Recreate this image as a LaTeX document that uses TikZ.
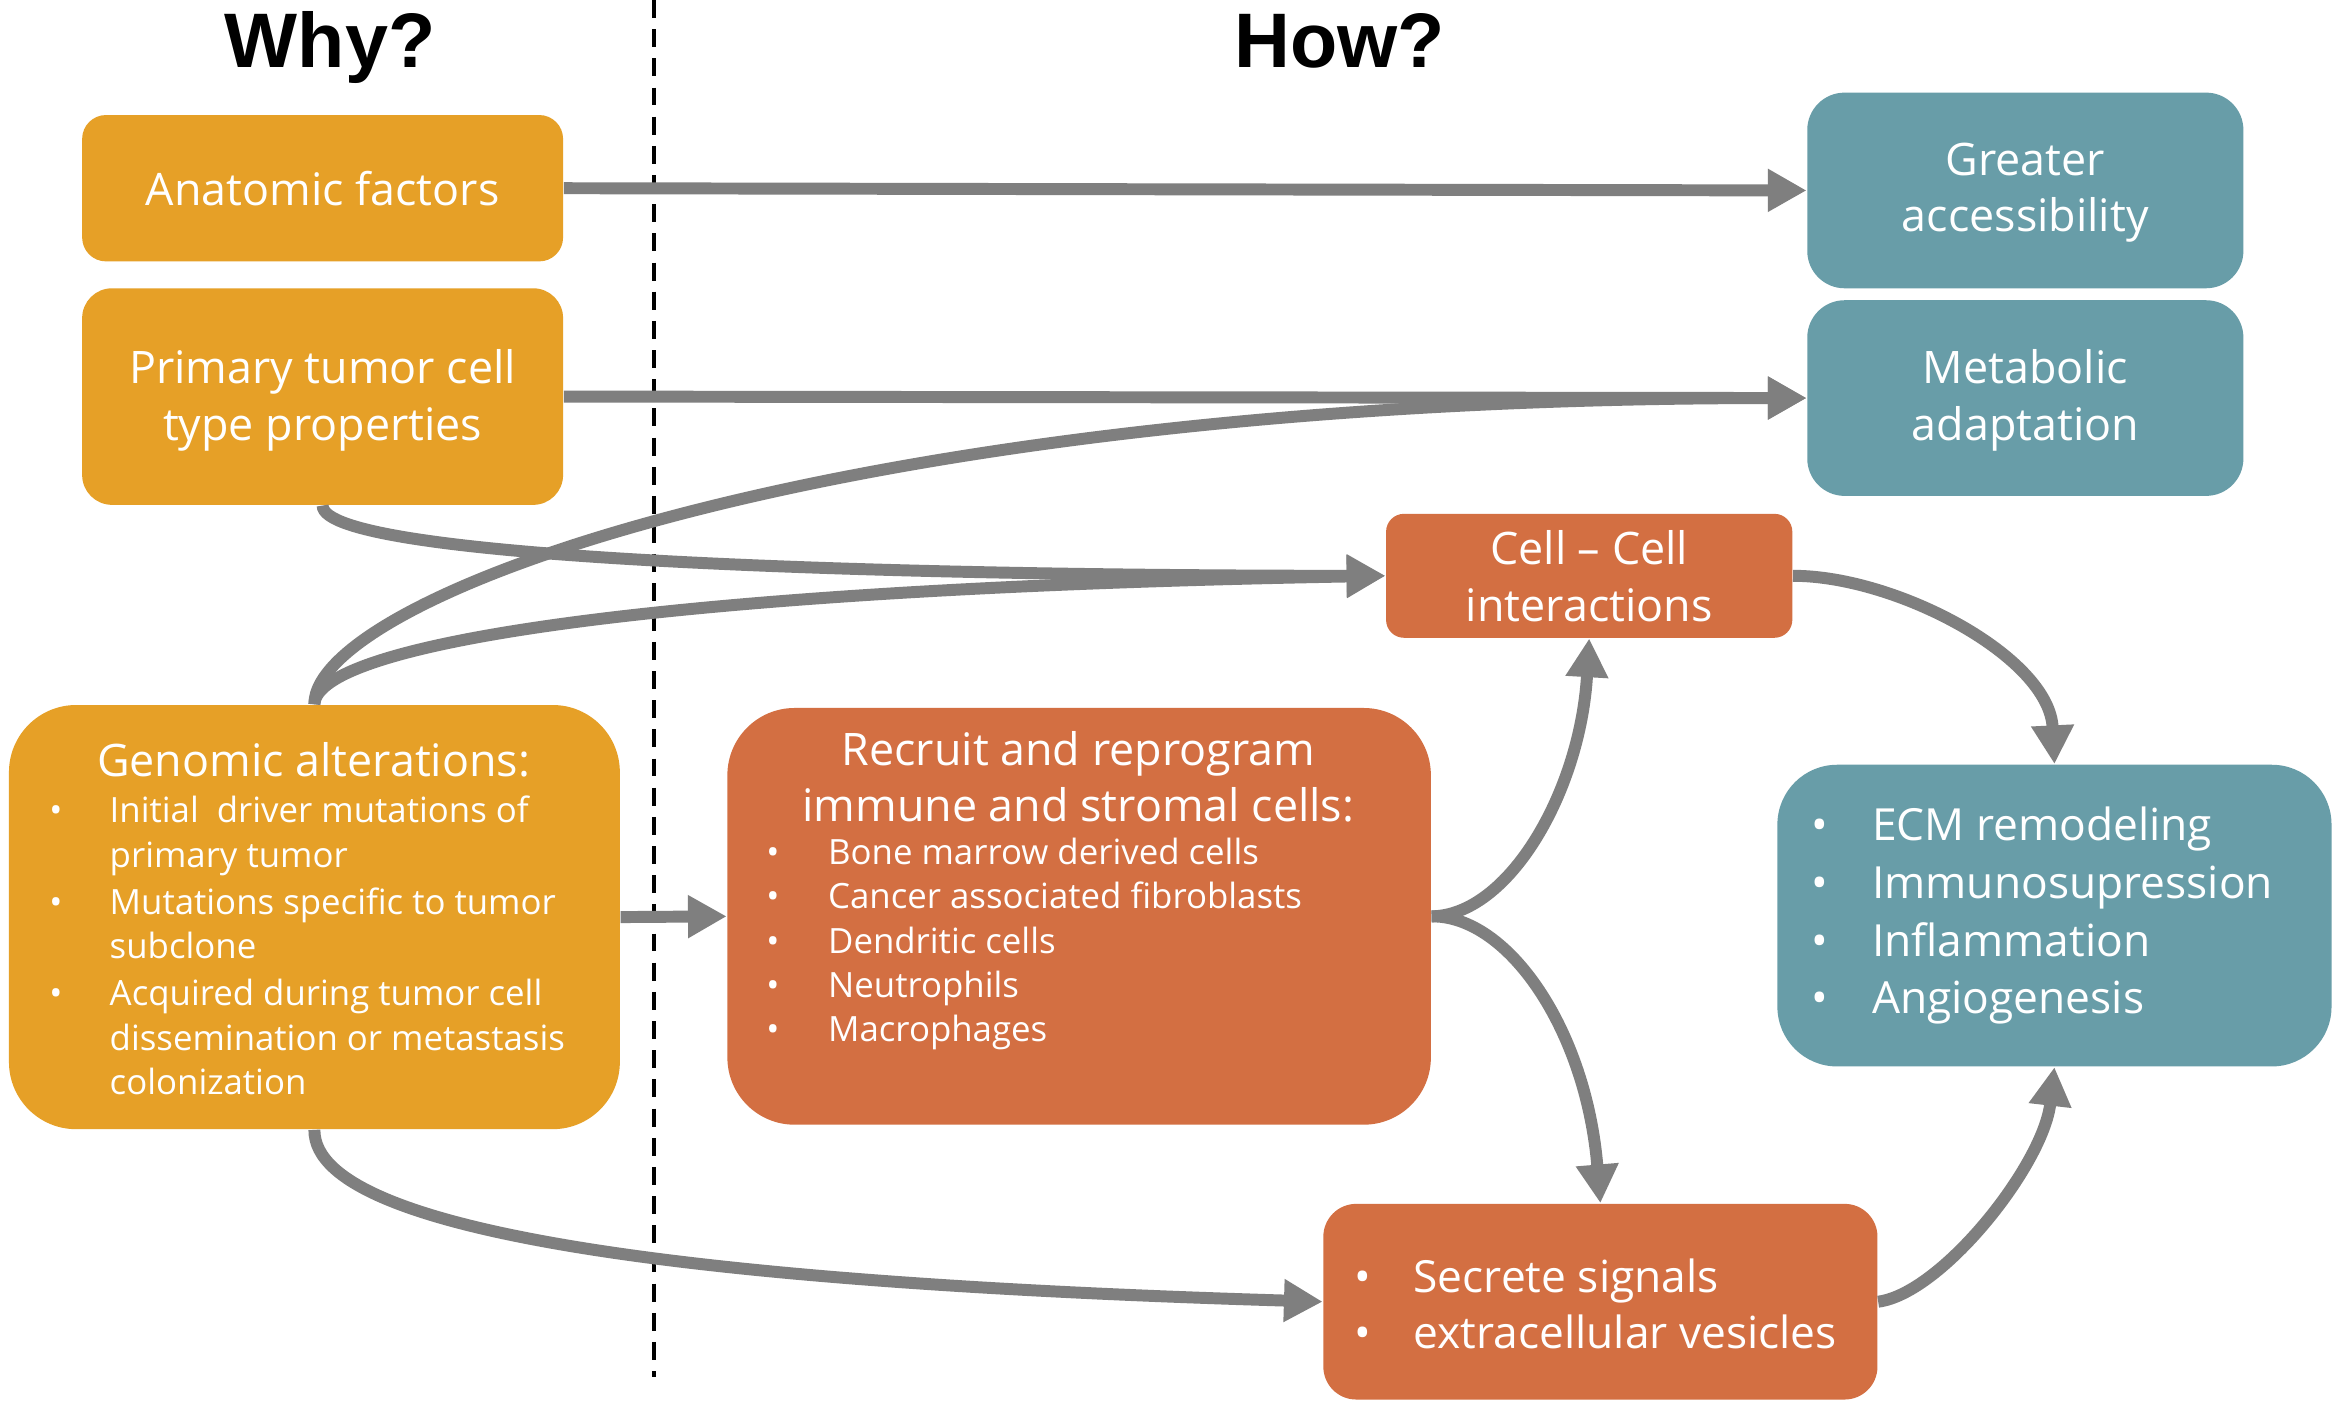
\documentclass[tikz,border=0pt]{standalone}
\usepackage{fontspec}
\setmainfont{Open Sans}
\newfontfamily\titlefont{Liberation Sans}
\usetikzlibrary{arrows.meta,fit}
\definecolor{cOr}{HTML}{E6A027}
\definecolor{cRd}{HTML}{D36F42}
\definecolor{cTl}{HTML}{689DA8}
\definecolor{cGr}{HTML}{7F7F7F}
\newlength\uu \setlength\uu{0.14936mm}
\newcommand\bl[1]{\makebox[0pt][c]{•}\hspace*{#1\uu}}
\newcommand\ind[1]{\hspace*{#1\uu}}
\tikzset{
  box/.style={inner sep=0pt, draw=none},
  txt/.style={inner sep=0pt, text=white},
  big/.style={txt, align=center, font=\fontsize{12.75}{16.15}\selectfont},
  conn/.style={draw=cGr, line width=3.4pt, -{Triangle[length=11pt,width=11.5pt]}},
  ttl/.style={inner sep=0pt, font=\titlefont\bfseries\fontsize{22}{26}\selectfont, anchor=base}
}
\begin{document}
\begin{tikzpicture}[x=0.14936mm, y=-0.14936mm]
\useasboundingbox[fill=white] (0,0) rectangle (1564,942.7);
% titles and divider
\node[ttl] (why) at (221,45) {Why?};
\node[ttl] (how) at (897,45) {How?};
\coordinate (dtop) at (438,0);
\coordinate (dbot) at (438,922);
\draw[line width=1pt, dash pattern=on 5.1pt off 3.2pt] (dtop) -- (dbot);
% boxes
\node[box, fill=cOr, rounded corners=16\uu, fit={(55,77) (377,175)}] (anat) {};
\node[box, fill=cOr, rounded corners=20\uu, fit={(55,193) (377,338)}] (prim) {};
\node[box, fill=cOr, rounded corners=45\uu, fit={(6,472) (415,756)}] (geno) {};
\node[box, fill=cRd, rounded corners=45\uu, fit={(487,474) (958,753)}] (recr) {};
\node[box, fill=cRd, rounded corners=12\uu, fit={(928,344) (1200,427)}] (cell) {};
\node[box, fill=cTl, rounded corners=25\uu, fit={(1210,62) (1502,193)}] (great) {};
\node[box, fill=cTl, rounded corners=25\uu, fit={(1210,201) (1502,332)}] (metab) {};
\node[box, fill=cTl, rounded corners=40\uu, fit={(1190,512) (1561,714)}] (ecm) {};
\node[box, fill=cRd, rounded corners=22\uu, fit={(886,806) (1257,937)}] (secr) {};
% box texts
\node[big] (anatT) at (216,126) {Anatomic factors};
\node[big] (primT) at (216,268) {Primary tumor cell\\type properties};
\node[big] (cellT) at (1064,386) {Cell – Cell\\interactions};
\node[big] (greatT) at (1356,129) {Greater\\accessibility};
\node[big] (metabT) at (1356,268) {Metabolic\\adaptation};
\node[big] (genoH) at (210,509) {Genomic alterations:};
\node[txt, anchor=west, align=left, font=\fontsize{9.9}{12.6}\selectfont] (genoL) at (37,633)
  {\bl{36}Initial~ driver mutations of\\
   \ind{36}primary tumor\\[0.8pt]
   \bl{36}Mutations specific to tumor\\
   \ind{36}subclone\\[0.8pt]
   \bl{36}Acquired during tumor cell\\
   \ind{36}dissemination or metastasis\\
   \ind{36}colonization};
\node[big] (recrH) at (722,520)
  {Recruit and reprogram\\immune and stromal cells:};
\node[txt, anchor=west, align=left, font=\fontsize{9.9}{12.6}\selectfont] (recrL) at (517,632)
  {\bl{37}Bone marrow derived cells\\
   \bl{37}Cancer associated fibroblasts\\
   \bl{37}Dendritic cells\\
   \bl{37}Neutrophils\\
   \bl{37}Macrophages};
\node[txt, anchor=west, align=left, font=\fontsize{12.6}{16.45}\selectfont] (ecmL) at (1218,613)
  {\bl{35}ECM remodeling\\
   \bl{35}Immunosupression\\
   \bl{35}Inflammation\\
   \bl{35}Angiogenesis};
\node[txt, anchor=west, align=left, font=\fontsize{12.6}{16.15}\selectfont] (secrL) at (912,873)
  {\bl{34}Secrete signals\\
   \bl{34}extracellular vesicles};
% connectors
\draw[conn] (anat.east) -- (great.west);
\draw[conn] (prim.east) -- (metab.west);
\draw[conn] (prim.south) .. controls (216,375) and (600,385.5) .. (cell.west);
\draw[conn] (geno.north) .. controls (210,400) and (560,266.5) .. (metab.west);
\draw[conn] (geno.north) .. controls (212,430) and (450,394) .. (cell.west);
\draw[conn] (geno.east) -- (recr.west);
\draw[conn] (recr.east) .. controls (1010,613) and (1058,530) .. (cell.south);
\draw[conn] (recr.east) .. controls (1010,613) and (1062,690) .. (secr.north);
\draw[conn] (cell.east) .. controls (1270,385.5) and (1372,440) .. (ecm.north);
\draw[conn] (secr.east) .. controls (1300,866) and (1368,780) .. (ecm.south);
\draw[conn] (geno.south) .. controls (210,830) and (500,860) .. (secr.west);
\end{tikzpicture}
\end{document}
